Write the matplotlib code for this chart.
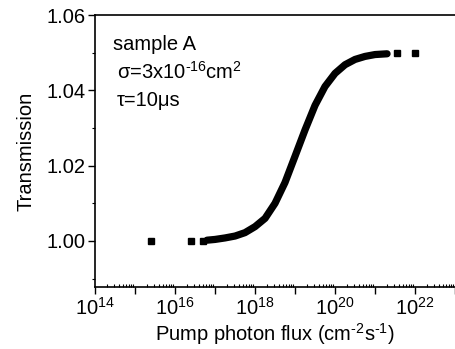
import numpy as np
import matplotlib.pyplot as plt
from matplotlib.ticker import LogLocator, FixedLocator, MultipleLocator, FuncFormatter

plt.rcParams['font.family'] = ['Liberation Sans', 'DejaVu Sans']
plt.rcParams['mathtext.fontset'] = 'custom'
plt.rcParams['mathtext.rm'] = 'Liberation Sans'
plt.rcParams['mathtext.it'] = 'Liberation Sans'

# dense part of the curve
flux_curve = [6.3e16, 1e17, 1.78e17, 3.16e17, 5.6e17, 1e18, 1.78e18, 3.16e18, 5.6e18,
              1e19, 1.78e19, 3.16e19, 5.6e19, 1e20, 1.78e20, 3.16e20, 5.6e20, 1e21, 2e21]
trans_curve = [1.0002, 1.0004, 1.0008, 1.0013, 1.0022, 1.0038, 1.0060, 1.0100, 1.0155,
               1.0225, 1.0295, 1.0360, 1.0410, 1.0445, 1.0468, 1.0482, 1.0490, 1.0495, 1.0497]

# isolated points at both ends
flux_pts = [2.5e15, 2.5e16, 5e16, 3.5e21, 1.0e22]
trans_pts = [1.000, 1.000, 1.000, 1.0499, 1.0499]

fig = plt.figure(figsize=(4.55, 3.49), dpi=100)
ax = fig.add_axes([0.209, 0.178, 0.791, 0.779])

ax.plot(flux_curve, trans_curve, color='black', lw=5.2, solid_capstyle='round')
ax.plot(flux_pts, trans_pts, 's', color='black', ms=4)

ax.set_xscale('log')
ax.set_xlim(1e14, 1e23)
ax.set_ylim(0.9878, 1.06)

ax.xaxis.set_major_locator(FixedLocator([10.0**k for k in range(14, 24)]))
ax.xaxis.set_major_formatter(FuncFormatter(
    lambda v, p: r'$10^{%d}$' % round(np.log10(v)) if round(np.log10(v)) % 2 == 0 else ''))
ax.xaxis.set_minor_locator(LogLocator(base=10, subs=np.arange(2, 10), numticks=50))
ax.xaxis.set_minor_formatter(FuncFormatter(lambda v, p: ''))

ax.yaxis.set_major_locator(FixedLocator([1.00, 1.02, 1.04, 1.06]))
ax.yaxis.set_major_formatter(FuncFormatter(lambda v, p: '%.2f' % v))
ax.yaxis.set_minor_locator(MultipleLocator(0.01))

ax.tick_params(axis='both', which='major', direction='out', length=5, width=1,
               labelsize=14.5, pad=2)
ax.tick_params(axis='x', which='minor', direction='in', length=2.5, width=0.8)
ax.tick_params(axis='y', which='minor', direction='out', length=2.5, width=0.8)

for s in ['left', 'bottom', 'top']:
    ax.spines[s].set_linewidth(1.2)
ax.spines['right'].set_visible(False)

ax.set_xlabel(r'Pump photon flux (cm$^{\text{-}2}$s$^{\text{-}1}$)', fontsize=14.5, labelpad=2)
ax.set_ylabel('Transmission', fontsize=14.5, labelpad=8)

ax.text(0.05, 0.87, 'sample A', transform=ax.transAxes, fontsize=14.5)
ax.text(0.06, 0.765, r'σ=3x10$^{\text{-}16}$cm$^{2}$', transform=ax.transAxes, fontsize=14.5)
ax.text(0.06, 0.665, 'τ=10μs', transform=ax.transAxes, fontsize=14.5)

fig.savefig('out.png', dpi=100)
